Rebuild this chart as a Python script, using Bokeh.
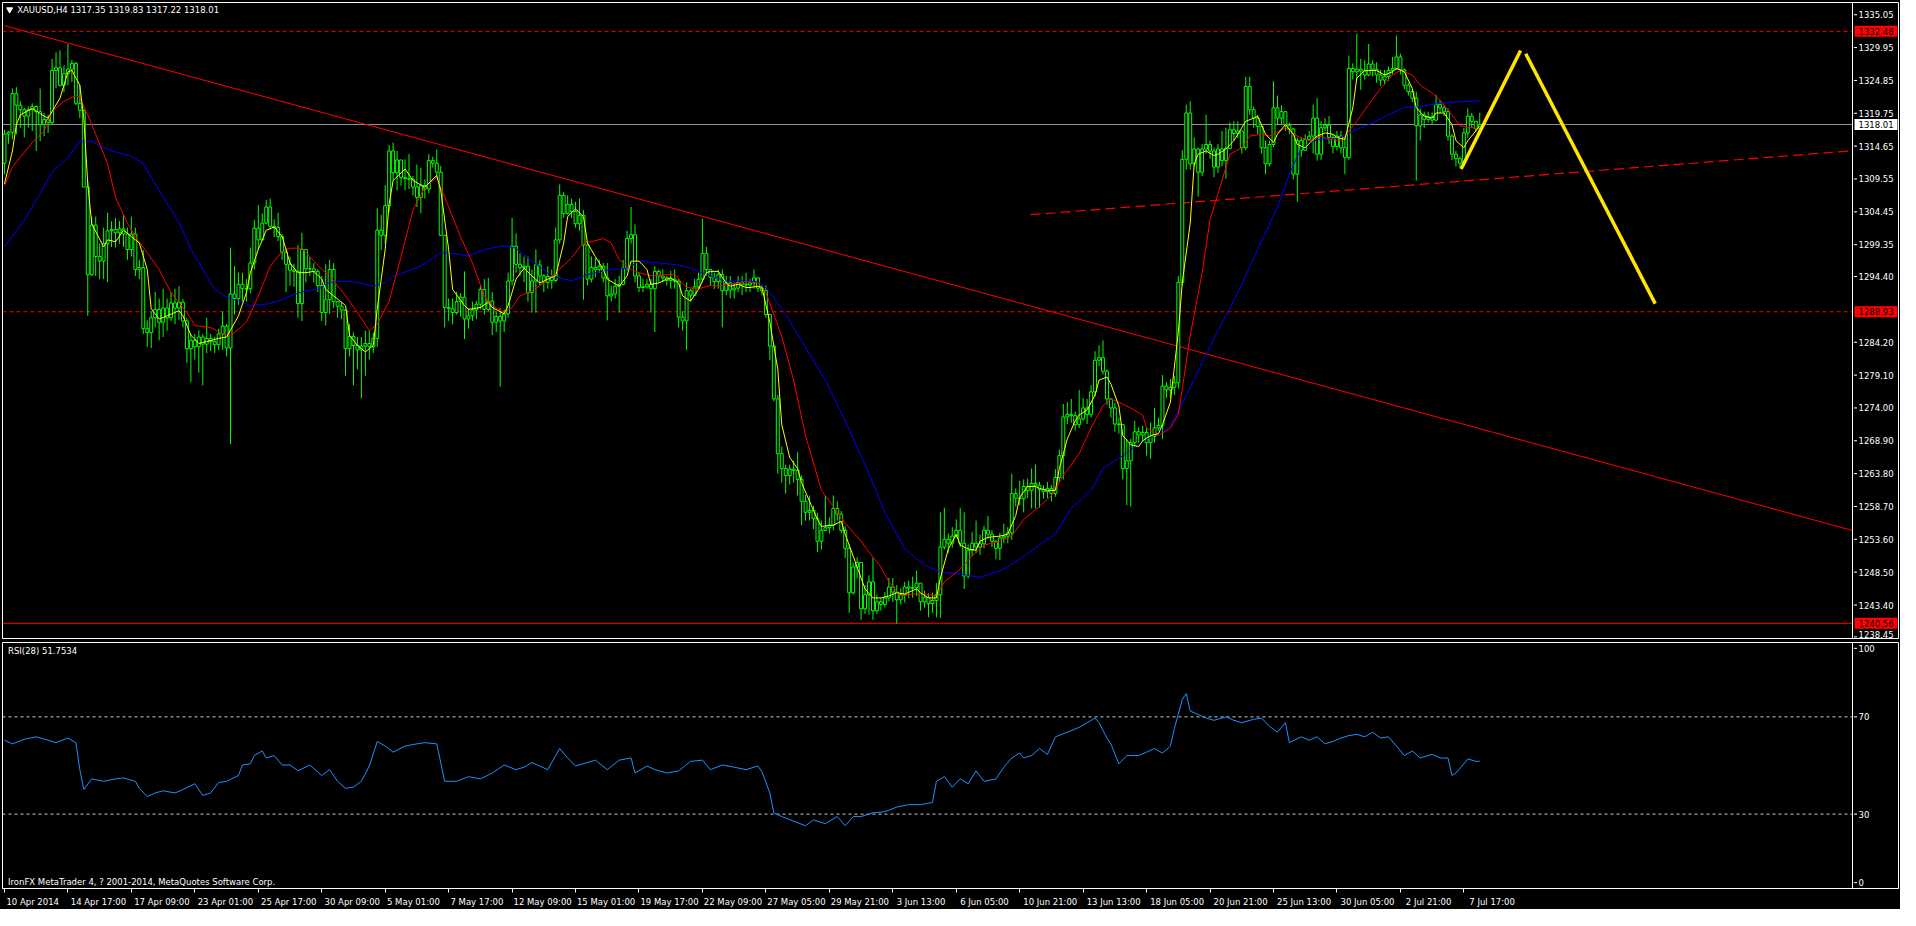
from bokeh.plotting import figure
from bokeh.layouts import column
from bokeh.models import Range1d, FixedTicker, LinearAxis, CustomJSTickFormatter, Span
from bokeh.embed import file_html
from bokeh.resources import INLINE
from bokeh.core.properties import value

FONT = "DejaVu Sans"
FS = "8.5px"
LIME = "#00FF00"

# ---------------- data (XAUUSD H4) ----------------
first_open = 1312.0
closes = [
 1316.5,1316.8,1322.8,1321.0,1320.3,1319.3,1320.3,1320.8,1320.0,1318.0,
 1318.8,1318.3,1326.4,1326.8,1324.1,1325.9,1326.6,1327.5,1321.3,1320.2,
 1308.3,1294.7,1302.4,1297.5,1296.8,1299.5,1301.5,1301.7,1301.2,1301.8,
 1301.0,1298.6,1301.0,1295.5,1295.8,1286.3,1285.7,1288.0,1289.3,1287.3,
 1289.5,1288.0,1290.3,1289.5,1290.4,1287.5,1283.2,1284.5,1283.5,1285.0,
 1283.9,1284.8,1284.3,1283.8,1285.5,1286.7,1283.3,1291.7,1291.0,1293.2,
 1292.5,1292.5,1296.5,1301.9,1300.1,1302.7,1305.2,1302.2,1302.0,1300.6,
 1298.2,1296.3,1295.4,1295.2,1290.2,1298.6,1295.6,1295.6,1295.2,1293.0,
 1288.8,1290.8,1295.5,1290.5,1289.8,1289.2,1283.2,1285.1,1283.7,1283.0,
 1283.6,1284.0,1283.5,1284.8,1301.6,1300.8,1305.4,1313.9,1310.5,1312.5,
 1309.8,1309.6,1309.5,1308.3,1306.7,1308.5,1308.0,1312.4,1312.0,1310.6,
 1300.8,1289.6,1289.4,1288.8,1290.5,1291.2,1287.8,1288.3,1289.2,1290.1,
 1292.4,1289.3,1290.6,1287.3,1288.2,1287.5,1288.6,1293.7,1299.1,1296.3,
 1295.8,1296.0,1291.9,1293.7,1296.2,1294.5,1293.5,1294.4,1293.8,1300.1,
 1307.0,1304.2,1305.6,1304.5,1302.6,1303.9,1299.3,1294.0,1295.8,1295.5,
 1296.0,1294.2,1291.4,1291.7,1292.9,1293.2,1295.7,1300.3,1300.9,1294.5,
 1292.7,1292.8,1293.2,1292.5,1295.2,1294.5,1294.2,1293.8,1294.0,1293.7,
 1288.1,1287.5,1292.2,1291.5,1292.8,1294.0,1298.0,1295.5,1294.3,1293.6,
 1294.7,1292.2,1293.4,1292.3,1292.6,1293.5,1293.2,1293.1,1293.4,1294.2,
 1292.6,1292.2,1288.5,1283.6,1275.4,1266.9,1264.6,1263.5,1264.5,1264.3,
 1262.9,1259.5,1257.8,1258.1,1256.8,1253.3,1255.0,1255.4,1255.8,1258.4,
 1257.5,1255.0,1252.2,1245.3,1249.3,1250.0,1242.8,1245.0,1247.0,1242.5,
 1243.9,1243.5,1244.5,1246.2,1245.4,1244.2,1245.0,1246.2,1246.0,1246.1,
 1246.8,1243.9,1244.6,1243.6,1244.1,1245.0,1252.4,1253.6,1253.0,1254.1,
 1255.0,1253.0,1247.9,1251.9,1253.0,1252.4,1252.9,1255.0,1254.4,1253.3,
 1252.2,1253.8,1254.1,1254.6,1260.7,1260.0,1259.9,1261.8,1261.2,1262.3,
 1262.0,1261.3,1261.0,1261.5,1260.7,1263.2,1266.6,1272.6,1273.0,1272.8,
 1271.4,1272.3,1274.0,1273.0,1276.5,1281.4,1281.8,1279.7,1275.4,1274.0,
 1271.5,1271.4,1264.6,1265.8,1268.6,1270.3,1269.8,1270.2,1268.6,1269.6,
 1270.9,1271.3,1277.4,1276.8,1277.2,1277.9,1293.5,1312.6,1319.8,1311.9,
 1314.2,1310.6,1314.2,1314.9,1313.9,1311.4,1314.2,1312.4,1314.3,1317.2,
 1316.6,1317.0,1314.4,1323.9,1320.3,1319.0,1317.7,1314.4,1311.9,1314.9,
 1320.6,1319.0,1320.0,1317.9,1317.3,1310.3,1315.5,1314.0,1315.7,1316.2,
 1319.0,1313.4,1317.5,1317.9,1316.0,1314.6,1316.2,1314.4,1312.9,1326.7,
 1326.2,1326.6,1326.3,1325.7,1327.4,1326.6,1325.7,1324.9,1325.5,1326.4,
 1326.7,1328.5,1326.5,1324.1,1323.1,1322.1,1317.8,1319.5,1318.8,1319.2,
 1318.7,1321.1,1320.6,1320.0,1316.2,1313.4,1312.7,1312.0,1316.7,1319.3,
 1318.5,1317.35,1318.01]
highs = [
 1317.2,1317.0,1323.6,1323.8,1321.6,1320.6,1320.8,1321.3,1321.0,1323.6,
 1319.8,1319.5,1328.2,1329.2,1329.5,1327.2,1330.5,1328.0,1327.7,1324.1,
 1320.2,1309.3,1303.7,1303.7,1299.5,1302.0,1304.3,1303.0,1303.5,1303.0,
 1304.0,1302.0,1303.7,1302.0,1297.0,1298.5,1287.6,1289.0,1292.0,1291.0,
 1292.5,1291.0,1292.0,1292.5,1292.9,1290.9,1288.0,1285.5,1285.5,1286.0,
 1285.5,1288.0,1285.5,1285.0,1286.3,1289.0,1287.0,1298.9,1296.0,1295.0,
 1295.0,1294.0,1298.9,1303.2,1305.5,1304.2,1306.3,1306.5,1303.3,1304.3,
 1301.0,1298.8,1297.5,1296.4,1299.3,1301.2,1298.3,1297.4,1296.5,1295.5,
 1294.5,1296.3,1297.0,1296.5,1290.6,1290.5,1289.4,1287.0,1285.7,1285.0,
 1285.0,1286.0,1286.0,1285.7,1305.0,1304.0,1308.6,1314.8,1315.2,1313.9,
 1311.0,1312.6,1313.4,1310.0,1311.8,1311.3,1309.5,1313.4,1313.0,1314.1,
 1311.6,1300.9,1291.0,1291.0,1292.0,1291.8,1295.2,1289.5,1290.5,1290.6,
 1293.0,1294.0,1294.2,1292.0,1289.0,1289.5,1289.3,1295.0,1303.5,1301.1,
 1298.0,1297.5,1297.5,1295.5,1298.6,1297.0,1294.8,1296.0,1295.5,1302.0,
 1308.7,1307.5,1307.0,1306.5,1306.0,1306.5,1304.7,1299.5,1297.5,1297.3,
 1297.0,1296.5,1296.5,1293.0,1294.0,1294.5,1297.0,1301.5,1305.2,1302.5,
 1295.0,1294.0,1294.0,1294.0,1296.0,1295.5,1295.5,1294.5,1295.3,1295.5,
 1294.0,1289.0,1293.5,1292.5,1294.0,1295.0,1303.4,1299.0,1295.5,1295.0,
 1295.5,1295.5,1294.5,1294.5,1293.5,1294.5,1294.5,1295.0,1294.0,1295.5,
 1294.2,1293.0,1293.0,1288.5,1283.6,1276.0,1268.0,1265.2,1265.2,1265.8,
 1267.2,1263.5,1260.5,1260.4,1258.8,1257.7,1256.5,1260.4,1257.0,1260.4,
 1259.5,1258.0,1255.6,1252.8,1250.0,1250.8,1249.0,1246.5,1248.0,1250.7,
 1245.0,1244.5,1245.4,1247.6,1247.6,1246.5,1246.0,1247.0,1247.2,1247.8,
 1248.7,1246.0,1245.6,1245.2,1245.3,1246.8,1257.8,1258.5,1254.5,1255.5,
 1256.7,1258.5,1257.8,1252.8,1254.7,1256.5,1254.3,1255.7,1257.2,1255.0,
 1253.5,1254.6,1256.0,1255.5,1263.8,1261.5,1262.7,1262.9,1263.0,1264.6,
 1265.2,1262.5,1262.0,1262.5,1262.0,1264.5,1267.5,1274.6,1274.9,1275.4,
 1273.4,1276.8,1275.5,1275.4,1277.5,1282.8,1283.7,1284.5,1280.0,1275.5,
 1274.8,1272.5,1271.2,1269.2,1269.2,1272.0,1271.0,1271.2,1270.9,1271.7,
 1274.0,1272.5,1279.1,1278.0,1278.5,1279.0,1294.5,1314.0,1321.1,1321.6,
 1316.0,1314.4,1315.0,1319.5,1315.5,1314.4,1315.0,1317.0,1317.5,1318.3,
 1318.5,1318.5,1317.0,1325.4,1325.4,1320.8,1319.5,1317.5,1315.5,1315.5,
 1324.7,1322.5,1321.0,1319.5,1318.3,1317.5,1316.0,1316.0,1316.5,1317.0,
 1321.1,1322.1,1318.5,1319.0,1319.3,1316.5,1317.0,1317.0,1316.0,1328.7,
 1327.5,1332.1,1328.2,1328.0,1330.5,1328.0,1327.7,1326.5,1326.5,1327.0,
 1328.5,1331.8,1329.0,1326.7,1324.5,1323.5,1323.1,1320.5,1320.0,1320.0,
 1319.9,1322.6,1321.8,1321.0,1320.5,1316.5,1313.9,1313.0,1317.5,1320.5,
 1319.8,1318.5,1319.83]
lows = [
 1310.3,1315.0,1315.7,1316.5,1317.5,1316.0,1317.5,1317.0,1313.9,1315.4,
 1316.2,1316.7,1318.0,1323.6,1323.9,1323.0,1324.1,1324.6,1321.0,1319.0,
 1308.3,1288.3,1294.5,1294.5,1294.0,1294.0,1293.5,1299.0,1298.9,1299.5,
 1299.0,1297.0,1297.5,1294.5,1294.0,1285.5,1283.5,1283.3,1286.5,1284.5,
 1285.0,1286.0,1287.5,1287.0,1287.7,1286.5,1281.0,1278.0,1281.5,1279.5,
 1277.5,1282.5,1282.8,1282.5,1283.0,1283.0,1282.0,1268.4,1288.5,1290.0,
 1290.5,1290.5,1291.8,1295.5,1298.5,1300.0,1302.5,1301.7,1300.5,1299.9,
 1297.0,1292.0,1293.0,1292.8,1288.0,1287.5,1293.5,1294.5,1293.5,1292.0,
 1287.5,1286.8,1288.6,1289.5,1288.0,1287.8,1279.0,1282.0,1277.5,1280.0,
 1275.5,1279.0,1281.5,1282.5,1283.5,1298.5,1299.5,1304.5,1309.3,1307.8,
 1308.5,1307.8,1308.0,1307.0,1305.2,1304.2,1306.5,1307.3,1311.3,1309.8,
 1300.8,1286.5,1287.5,1287.0,1288.5,1288.2,1284.7,1286.3,1287.5,1287.8,
 1289.3,1288.5,1289.0,1285.3,1285.8,1277.3,1285.8,1288.0,1293.0,1295.0,
 1294.5,1293.5,1290.5,1288.8,1288.8,1293.0,1292.0,1292.5,1292.5,1293.5,
 1299.5,1303.5,1304.0,1303.5,1302.0,1301.5,1290.8,1293.0,1293.5,1294.3,
 1295.0,1293.5,1287.6,1290.5,1291.0,1288.8,1293.0,1295.3,1299.5,1293.5,
 1292.0,1292.0,1292.5,1288.8,1285.8,1293.5,1293.5,1293.0,1292.5,1292.5,
 1286.5,1286.0,1283.0,1290.5,1291.5,1292.5,1293.5,1294.5,1293.0,1292.5,
 1292.5,1286.5,1291.5,1291.0,1291.0,1292.0,1291.5,1292.0,1292.0,1292.5,
 1292.0,1291.5,1288.0,1281.4,1275.0,1263.8,1262.4,1260.7,1262.1,1262.4,
 1260.4,1255.8,1256.5,1256.5,1255.2,1251.6,1252.0,1254.9,1254.5,1255.0,
 1256.5,1254.5,1250.7,1242.2,1245.0,1247.5,1241.1,1242.0,1241.9,1241.1,
 1242.0,1242.5,1243.0,1244.0,1243.9,1240.5,1243.5,1243.8,1244.5,1244.5,
 1244.8,1242.5,1243.0,1241.5,1242.2,1241.5,1241.4,1252.0,1251.5,1252.3,
 1253.8,1252.4,1245.9,1247.5,1251.0,1251.5,1251.2,1252.2,1253.7,1252.4,
 1250.5,1250.4,1253.0,1253.0,1253.5,1258.7,1258.9,1257.8,1260.0,1258.4,
 1258.4,1258.5,1259.9,1260.0,1259.5,1260.2,1262.5,1262.9,1271.5,1271.7,
 1270.5,1270.9,1272.0,1271.5,1272.5,1275.8,1280.5,1279.2,1274.5,1272.5,
 1270.3,1270.0,1262.9,1258.9,1258.7,1268.0,1268.6,1268.8,1266.6,1266.1,
 1268.6,1270.5,1269.2,1275.5,1275.5,1276.0,1277.0,1293.0,1311.0,1311.0,
 1311.5,1306.8,1310.0,1313.5,1312.7,1309.8,1310.5,1311.5,1309.6,1314.2,
 1315.5,1315.9,1313.5,1314.0,1319.5,1317.5,1316.5,1313.5,1310.3,1311.5,
 1314.5,1318.0,1318.0,1317.0,1316.5,1309.5,1306.0,1313.0,1314.5,1315.5,
 1313.5,1312.4,1312.5,1317.0,1315.0,1313.5,1314.0,1313.5,1310.3,1312.5,
 1325.0,1324.9,1323.4,1325.0,1325.5,1325.5,1324.5,1324.0,1324.2,1324.8,
 1325.8,1326.5,1325.8,1323.5,1322.5,1321.5,1309.3,1315.5,1317.5,1318.3,
 1318.0,1318.5,1319.8,1319.3,1315.5,1312.5,1311.5,1311.3,1311.5,1316.0,
 1317.5,1316.8,1317.22]

# moving averages: (bar index, price)
ma_fast_x = [0,2,3,4,7,10,11,14,16,17,19,20,21,22,25,26,28,30,32,34,36,37,39,41,44,45,47,49,51,54,56,59,61,62,64,66,68,70,71,72,74,76,78,80,81,83,86,87,89,91,93,94,96,97,98,101,103,106,109,110,112,113,116,117,120,122,123,126,127,129,131,133,135,137,139,141,142,144,146,147,149,151,152,155,157,158,160,162,163,165,167,168,170,171,173,175,177,178,180,182,183,185,187,188,190,191,193,195,196,198,200,201,203,205,206,209,211,212,214,216,217,219,221,223,225,227,230,231,233,235,236,238,240,241,243,245,246,248,251,253,255,256,258,260,261,263,265,266,268,270,271,273,275,276,278,279,281,282,284,286,287,289,291,292,294,296,297,299,300,301,303,305,306,308,310,311,313,315,316,318,320,321,323,325,326,328,330,331,333,335,336,338,340,341,343,345,346,348,350,351,353,355,356,358,360,361,363,365,366,368,369,371,372]
ma_fast_y = [1308.8,1313.9,1318.0,1319.5,1320.5,1319.3,1319.0,1322.1,1326.2,1326.4,1324.1,1319.0,1308.8,1302.6,1299.0,1300.1,1299.8,1301.6,1300.6,1299.6,1295.5,1289.4,1287.8,1288.3,1289.1,1288.3,1285.3,1284.0,1284.3,1284.8,1285.0,1288.3,1291.9,1295.0,1298.6,1301.6,1302.1,1300.6,1298.6,1296.5,1295.0,1295.0,1295.2,1294.0,1292.4,1291.4,1289.9,1285.3,1283.7,1282.7,1283.7,1289.4,1298.6,1305.7,1309.3,1311.1,1309.3,1308.3,1310.1,1307.8,1298.6,1292.4,1289.9,1289.3,1289.6,1290.4,1289.6,1288.6,1289.9,1294.0,1295.7,1294.5,1293.4,1294.0,1294.5,1299.6,1303.7,1304.9,1303.7,1299.6,1297.5,1295.5,1294.0,1292.9,1294.5,1296.8,1296.8,1295.5,1293.2,1293.4,1294.0,1294.2,1293.4,1291.4,1290.6,1292.4,1295.0,1295.2,1295.2,1293.4,1292.9,1293.2,1292.7,1292.7,1292.9,1292.7,1287.3,1280.0,1271.4,1266.3,1264.6,1262.4,1259.5,1256.7,1255.6,1255.8,1256.4,1254.4,1251.0,1247.6,1245.9,1244.5,1244.5,1244.8,1245.3,1245.1,1245.9,1245.3,1244.5,1244.5,1247.6,1252.1,1254.4,1252.7,1252.1,1251.9,1253.3,1253.9,1254.1,1254.4,1257.3,1260.1,1261.8,1261.8,1261.5,1261.2,1261.2,1264.6,1269.2,1272.0,1272.9,1273.7,1276.0,1278.3,1278.8,1277.7,1274.3,1269.7,1268.3,1268.0,1268.9,1269.7,1270.0,1271.4,1274.9,1285.8,1293.5,1302.7,1311.9,1313.4,1313.9,1313.2,1313.4,1314.2,1315.5,1316.5,1318.5,1319.0,1319.3,1316.5,1315.2,1316.5,1318.0,1316.5,1314.9,1314.4,1315.7,1316.2,1316.7,1316.5,1316.0,1315.7,1320.6,1325.2,1326.4,1326.4,1326.4,1325.7,1326.2,1326.7,1326.2,1323.6,1320.6,1319.3,1319.0,1319.8,1319.8,1318.0,1315.5,1314.4,1315.5,1317.0,1317.8]
ma_mid_x = [0,2,7,10,12,15,18,19,21,23,26,28,31,33,36,39,42,46,48,52,55,57,61,64,67,70,72,75,77,80,82,86,89,92,94,97,100,103,106,109,112,115,118,121,123,126,128,130,133,136,139,143,146,148,151,153,155,158,160,163,167,169,172,175,178,180,183,187,190,192,196,199,202,206,209,212,216,218,221,223,226,229,232,235,237,241,244,247,251,254,257,261,264,267,271,274,277,279,282,284,287,288,291,294,296,297,299,302,304,307,309,312,314,317,319,322,323,326,329,332,334,337,338,341,344,347,350,352,355,357,360,362,365,367,370,372]
ma_mid_y = [1308.5,1311.4,1315.2,1317.0,1320.0,1321.6,1322.5,1322.1,1319.5,1316.5,1311.9,1306.7,1302.7,1300.6,1298.1,1295.5,1291.9,1288.8,1286.8,1286.5,1285.5,1285.2,1287.3,1291.4,1296.0,1298.3,1298.8,1298.8,1297.5,1295.5,1294.5,1291.4,1288.8,1286.0,1287.0,1290.6,1297.5,1304.7,1308.3,1309.8,1305.2,1300.6,1296.5,1291.4,1289.9,1288.8,1289.6,1291.4,1292.2,1293.4,1295.0,1297.3,1299.7,1299.8,1300.3,1299.6,1297.0,1295.5,1295.0,1294.5,1294.7,1294.7,1292.7,1292.5,1293.0,1292.9,1293.2,1293.6,1293.4,1291.9,1285.1,1278.3,1269.7,1261.2,1258.7,1256.1,1253.3,1251.6,1249.3,1247.0,1244.8,1245.1,1245.1,1244.8,1247.0,1249.0,1251.0,1252.7,1253.3,1254.1,1256.7,1258.7,1260.4,1263.5,1266.9,1270.9,1274.3,1275.4,1274.6,1274.0,1272.9,1270.9,1269.7,1270.9,1273.0,1277.0,1285.3,1295.0,1303.2,1309.3,1313.4,1314.4,1316.2,1316.5,1316.2,1317.2,1317.5,1316.2,1315.5,1316.2,1315.7,1315.5,1316.2,1318.5,1321.1,1323.6,1325.7,1326.4,1325.7,1324.1,1322.9,1321.8,1319.5,1317.8,1317.5,1317.4]
ma_slow_x = [0,5,9,12,16,19,22,24,27,30,32,35,38,41,44,47,51,53,56,60,62,66,69,72,76,79,82,85,89,93,96,98,105,110,113,117,121,126,129,133,138,143,147,152,157,160,165,170,173,177,182,187,190,192,197,202,207,212,217,222,227,232,236,241,246,251,256,261,265,269,274,277,282,286,289,294,298,302,306,311,316,321,324,327,331,336,339,344,349,353,357,362,366,372]
ma_slow_y = [1299.0,1303.2,1307.3,1310.6,1312.9,1315.4,1315.4,1314.7,1313.9,1313.4,1313.1,1311.9,1308.8,1305.7,1302.9,1298.6,1294.5,1292.4,1291.2,1290.4,1289.9,1290.1,1290.6,1291.4,1292.2,1292.4,1293.5,1293.7,1293.5,1292.9,1293.5,1294.4,1296.0,1298.1,1298.0,1297.6,1298.6,1299.2,1298.8,1296.8,1294.5,1293.7,1294.7,1295.4,1295.7,1296.8,1296.5,1296.2,1295.7,1294.7,1293.7,1293.7,1293.6,1292.7,1288.5,1283.4,1278.3,1272.0,1265.2,1257.8,1252.1,1249.6,1248.5,1248.2,1247.7,1248.7,1250.5,1252.7,1254.4,1258.4,1261.2,1264.6,1266.6,1268.3,1269.5,1271.2,1276.0,1281.0,1286.0,1291.9,1298.6,1305.2,1310.3,1314.4,1315.7,1315.8,1316.7,1318.0,1319.5,1320.7,1320.8,1321.3,1321.5,1321.7]

# RSI(28): (bar index, value)
rsi_x = [0,2,5,8,11,13,16,18,19,20,22,25,28,30,33,34,36,38,40,43,45,48,50,52,54,56,59,60,62,63,65,66,68,70,72,74,77,80,82,84,86,88,90,92,94,96,98,101,104,106,109,111,114,117,120,123,126,129,131,133,137,140,142,144,149,152,155,158,159,162,164,167,170,173,176,178,181,184,187,190,191,193,194,196,199,202,204,207,210,212,214,216,219,222,225,228,231,234,235,237,239,241,243,245,247,250,252,254,256,257,259,261,263,265,268,271,273,275,276,278,279,281,283,286,288,290,292,294,295,297,298,299,301,303,305,308,310,312,315,317,319,321,323,324,327,329,331,333,335,337,339,341,343,345,347,349,351,353,355,357,360,362,364,365,366,368,369,371,372]
rsi_y = [60.4,58.9,60.8,61.8,60.4,59.4,61.3,59.4,48.3,40.1,44.5,43.5,44.5,44.9,43.5,40.6,37.2,38.7,39.6,38.7,40.1,42.5,37.7,38.7,43.0,43.5,45.9,50.2,50.7,54.1,56.0,53.1,54.1,50.2,50.2,47.8,50.2,45.9,48.3,43.5,40.6,41.1,43.5,49.8,59.9,58.0,55.5,58.0,58.9,59.4,58.9,43.5,43.5,45.4,44.5,46.9,50.2,48.3,49.3,51.2,48.3,57.0,53.1,49.8,52.2,48.3,52.2,53.1,46.9,49.8,48.3,46.9,47.8,51.7,52.2,48.3,50.2,49.3,48.3,49.8,47.4,38.7,30.5,29.0,27.1,25.2,27.6,26.1,29.0,25.2,29.0,29.0,30.5,31.0,32.9,33.9,33.9,34.8,43.5,45.4,41.1,44.5,42.5,47.8,43.5,44.5,49.3,53.1,55.1,53.1,54.1,57.0,54.6,61.8,63.7,65.7,67.6,69.5,67.6,61.3,58.9,50.7,54.1,54.1,55.5,57.0,55.1,58.0,65.2,77.2,79.6,72.4,71.0,69.5,68.6,70.0,68.6,67.6,69.0,69.5,66.1,63.7,67.6,59.4,61.8,60.4,61.8,58.9,59.9,61.3,62.3,62.8,61.8,63.7,61.3,61.8,58.0,54.1,56.0,53.1,54.6,53.1,53.1,45.9,46.9,50.7,52.7,51.7,51.75]

# horizontal price lines with their tags on the price scale
level_top = 1332.48
level_bid = 1318.01
level_mid = 1288.93
level_low = 1240.56
price_ticks = [1243.40,1248.50,1253.60,1258.70,1263.80,1268.90,1274.00,1279.10,1284.20,
               1294.40,1299.35,1304.45,1309.55,1314.65,1319.75,1324.85,1329.95,1335.05]
price_tick_bottom = 1238.45
rsi_levels = [30, 70]
rsi_scale_labels = ["0", "30", "70", "100"]
rsi_scale_values = [1.8, 30, 70, 98.2]
date_labels = ["10 Apr 2014","14 Apr 17:00","17 Apr 09:00","23 Apr 01:00","25 Apr 17:00",
               "30 Apr 09:00","5 May 01:00","7 May 17:00","12 May 09:00","15 May 01:00",
               "19 May 17:00","22 May 09:00","27 May 05:00","29 May 21:00","3 Jun 13:00",
               "6 Jun 05:00","10 Jun 21:00","13 Jun 13:00","18 Jun 05:00","20 Jun 21:00",
               "25 Jun 13:00","30 Jun 05:00","2 Jul 21:00","7 Jul 17:00"]
date_label_bars = [16 * k for k in range(len(date_labels))]

# drawn objects (trend lines) as (bar, price) anchors
trend_down = ([0, 466], [1333.35, 1254.97])
trend_up = ([258.75, 466], [1304.0, 1313.93])
zig1 = ([367.3, 382.3], [1311.1, 1329.5])
zig2 = ([383.6, 416.25], [1329.0, 1290.2])

HEADER = "XAUUSD,H4  1317.35 1319.83 1317.22 1318.01"

# ---------------- derived candle geometry ----------------
n = len(closes)
idx = list(range(n))
opens = [first_open] + closes[:-1]
tops = [max(o, c) for o, c in zip(opens, closes)]
bots = [min(o, c) for o, c in zip(opens, closes)]
his = [max(h, t) for h, t in zip(highs, tops)]
los = [min(l, b) for l, b in zip(lows, bots)]

# ---------------- geometry ----------------
X_END = 466.0            # separator between chart and price scale (bar units)
FW_CHART = 1850          # pixels of chart area
FW = 1896                # chart + price scale
PXB = FW_CHART / (X_END + 0.5)
X_MAX = X_END + (FW - FW_CHART) / PXB
xr = Range1d(-0.5, X_MAX)

def sx(px):
    """bar coordinate px pixels to the right of the separator"""
    return X_END + px / PXB

common = dict(frame_width=FW, x_range=xr, output_backend="svg", toolbar_location=None,
              x_axis_location=None, y_axis_location=None,
              background_fill_color="black", border_fill_color="black",
              outline_line_color="white", outline_line_width=1,
              min_border_left=2, min_border_right=2)

txt = dict(text_font=value(FONT), text_font_size=FS, text_baseline="middle", text_align="left")

# ---------------- main price pane ----------------
p = figure(frame_height=636, y_range=Range1d(1238.2, 1336.95),
           min_border_top=2, min_border_bottom=2, **common)
p.grid.visible = False

# horizontal levels (stop at the price scale)
p.segment(x0=[-0.5, -0.5], y0=[level_top, level_mid], x1=[X_END, X_END], y1=[level_top, level_mid],
          line_color="#FF0000", line_dash="4 3", line_width=1)
p.segment(x0=[-0.5], y0=[level_low], x1=[X_END], y1=[level_low], line_color="#FF0000", line_width=1)
p.segment(x0=[-0.5], y0=[level_bid], x1=[X_END], y1=[level_bid], line_color="#8E939C", line_width=1)

p.line(trend_down[0], trend_down[1], line_color="#FF0000", line_width=1)
p.line(trend_up[0], trend_up[1], line_color="#FF0000", line_width=1.2, line_dash="10 5")

p.segment(x0=idx, y0=los, x1=idx, y1=his, line_color=LIME, line_width=1)
p.vbar(x=idx, top=tops, bottom=bots, width=0.74, fill_color="black", line_color=LIME, line_width=1)

p.line(ma_slow_x, ma_slow_y, line_color="#0000FF", line_width=1)
p.line(ma_mid_x, ma_mid_y, line_color="#FF0000", line_width=1)
p.line(ma_fast_x, ma_fast_y, line_color="#FFFF00", line_width=1)

p.line(zig1[0], zig1[1], line_color="#FFE600", line_width=3.5)
p.line(zig2[0], zig2[1], line_color="#FFE600", line_width=3.5)

p.scatter(x=[1.3], y=[1335.85], marker="inverted_triangle", size=6, color="white")
p.text(x=[3.2], y=[1335.85], text=[HEADER], text_color="white", **txt)

# price scale
p.add_layout(Span(location=X_END, dimension="height", line_color="white", line_width=1))
all_ticks = price_ticks + [price_tick_bottom]
p.segment(x0=[sx(1.5)] * len(all_ticks), y0=all_ticks, x1=[sx(4.5)] * len(all_ticks), y1=all_ticks,
          line_color="white", line_width=1)
p.text(x=[sx(6)] * len(price_ticks), y=price_ticks, text=[f"{t:.2f}" for t in price_ticks],
       text_color="white", **txt)
p.text(x=[sx(6)], y=[price_tick_bottom], text=[f"{price_tick_bottom:.2f}"], y_offset=-2,
       text_color="white", **txt)

tag_levels = [level_top, level_bid, level_mid, level_low]
tag_fill = ["#FF0000", "#FFFFFF", "#FF0000", "#FF0000"]
p.rect(x=[sx(23.5)] * 4, y=tag_levels, width=43, height=11, width_units="screen",
       height_units="screen", fill_color=tag_fill, line_color=None)
p.text(x=[sx(6)] * 4, y=tag_levels, text=[f"{t:.2f}" for t in tag_levels], text_color="black", **txt)

# ---------------- RSI pane ----------------
r = figure(frame_height=246, y_range=Range1d(-0.6, 100.6),
           min_border_top=2, min_border_bottom=0, **common)
r.grid.visible = False

r.segment(x0=[-0.5] * 2, y0=rsi_levels, x1=[X_END] * 2, y1=rsi_levels,
          line_color="#C8C8C8", line_dash="3 3", line_width=1)
r.line(rsi_x, rsi_y, line_color="#1E90FF", line_width=1)

r.text(x=[0.9], y=[97.3], text=["RSI(28) 51.7534"], text_color="white", **txt)
r.text(x=[0.9], y=[2.2], text=["IronFX MetaTrader 4, ? 2001-2014, MetaQuotes Software Corp."],
       text_color="white", **txt)

r.add_layout(Span(location=X_END, dimension="height", line_color="white", line_width=1))
r.segment(x0=[sx(1.5)] * 4, y0=rsi_scale_values, x1=[sx(4.5)] * 4, y1=rsi_scale_values,
          line_color="white", line_width=1)
r.text(x=[sx(6)] * 4, y=rsi_scale_values, text=rsi_scale_labels, text_color="white", **txt)

centers = [b + (3.0 + 0.54 * 8.5 * len(lab) / 2.0) / PXB for b, lab in zip(date_label_bars, date_labels)]
xa = LinearAxis(ticker=FixedTicker(ticks=centers, minor_ticks=date_label_bars),
                formatter=CustomJSTickFormatter(args=dict(c=centers, l=date_labels), code="""
                    const i = c.findIndex(v => Math.abs(v - tick) < 1e-6);
                    return i >= 0 ? l[i] : "";"""),
                axis_line_color="white", major_tick_line_color=None,
                major_tick_out=0, major_tick_in=0,
                minor_tick_line_color="white", minor_tick_out=4, minor_tick_in=0,
                major_label_standoff=4, major_label_text_color="white",
                major_label_text_font=FONT, major_label_text_font_size=FS)
r.add_layout(xa, "below")

layout = column(p, r, spacing=0, styles={"background-color": "black"})
open("out.html", "w").write(file_html(layout, INLINE))
